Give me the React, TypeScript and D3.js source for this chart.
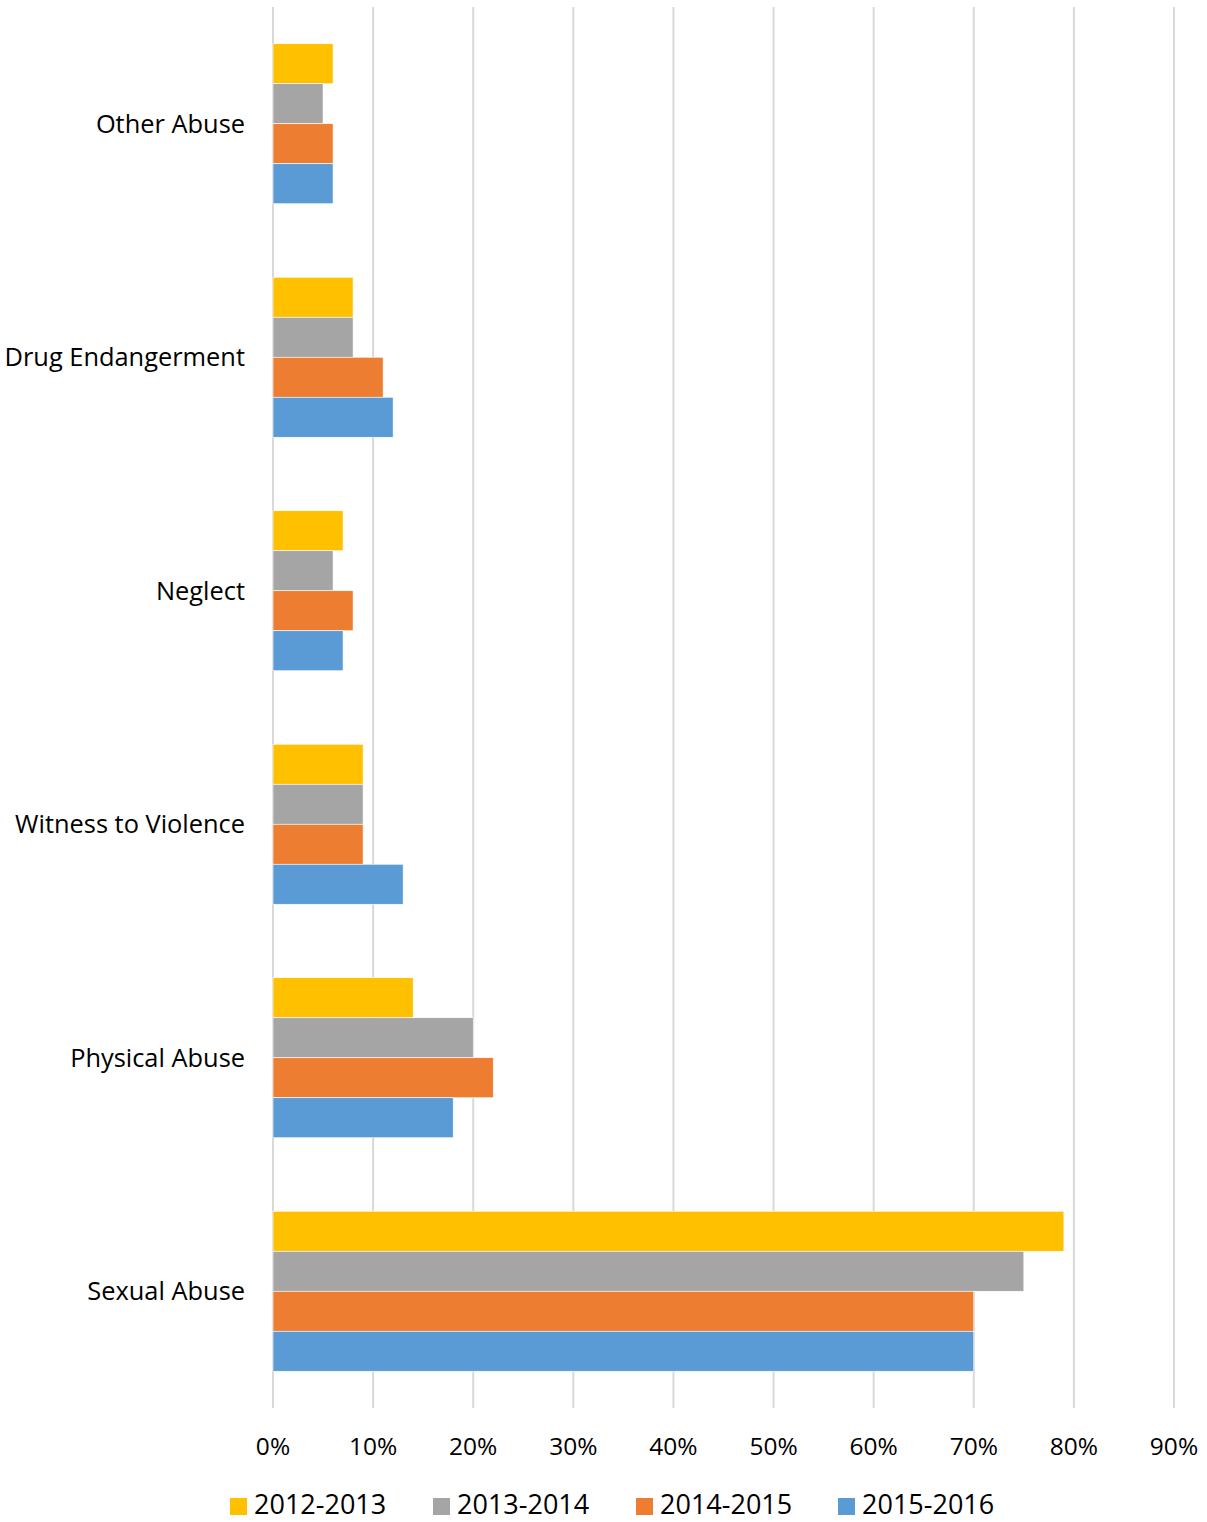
import React from "react";
import * as d3 from "d3";

const categories = ["Other Abuse", "Drug Endangerment", "Neglect", "Witness to Violence", "Physical Abuse", "Sexual Abuse"];
const seriesNames = ["2012-2013", "2013-2014", "2014-2015", "2015-2016"];
const seriesColors = ["#FFC000", "#A5A5A5", "#ED7D31", "#5B9BD5"];
const v2012 = [6, 8, 7, 9, 14, 79];
const v2013 = [5, 8, 6, 9, 20, 75];
const v2014 = [6, 11, 8, 9, 22, 70];
const v2015 = [6, 12, 7, 13, 18, 70];
const seriesValues = [v2012, v2013, v2014, v2015];
const ticks = [0, 10, 20, 30, 40, 50, 60, 70, 80, 90];

const W = 1207;
const H = 1522;
const FONT = "'Open Sans', 'Liberation Sans', sans-serif";

export default function App() {
  const x = d3.scaleLinear().domain([0, 90]).range([273, 1174]);
  const y0 = d3.scaleBand<string>().domain(categories).range([7, 1408]);
  const groupH = 160;
  const off = (y0.bandwidth() - groupH) / 2;
  const yi = d3.scaleBand<string>().domain(seriesNames).range([off, off + groupH]);
  const legendX = [230, 433, 636, 838];

  return (
    <svg width={W} height={H} style={{ display: "block", position: "absolute", left: 0, top: 0, background: "#fff" }} fontFamily={FONT}>
      <rect x={0} y={0} width={W} height={H} fill="#fff" />
      {ticks.map((t) => (
        <line key={t} x1={x(t)} x2={x(t)} y1={7} y2={1408} stroke="#D9D9D9" strokeWidth={2} />
      ))}
      {categories.map((c, ci) => (
        <g key={c} transform={`translate(0,${y0(c)})`}>
          {seriesNames.map((s, si) => (
            <rect
              key={s}
              x={x(0)}
              y={yi(s)}
              width={x(seriesValues[si][ci]) - x(0)}
              height={yi.bandwidth()}
              fill={seriesColors[si]}
              stroke="#fff"
              strokeWidth={0.6}
            />
          ))}
          <text x={245} y={y0.bandwidth() / 2} dy="0.36em" textAnchor="end" fontSize={25.4} fill="#000">
            {c}
          </text>
        </g>
      ))}
      {ticks.map((t) => (
        <text key={t} x={x(t)} y={1455} textAnchor="middle" fontSize={24.5} fill="#000">
          {t}%
        </text>
      ))}
      {seriesNames.map((s, si) => (
        <g key={s} transform={`translate(${legendX[si]},0)`}>
          <rect x={0} y={1498} width={17} height={17} fill={seriesColors[si]} />
          <text x={24} y={1514} fontSize={27} fill="#000">
            {s}
          </text>
        </g>
      ))}
    </svg>
  );
}
